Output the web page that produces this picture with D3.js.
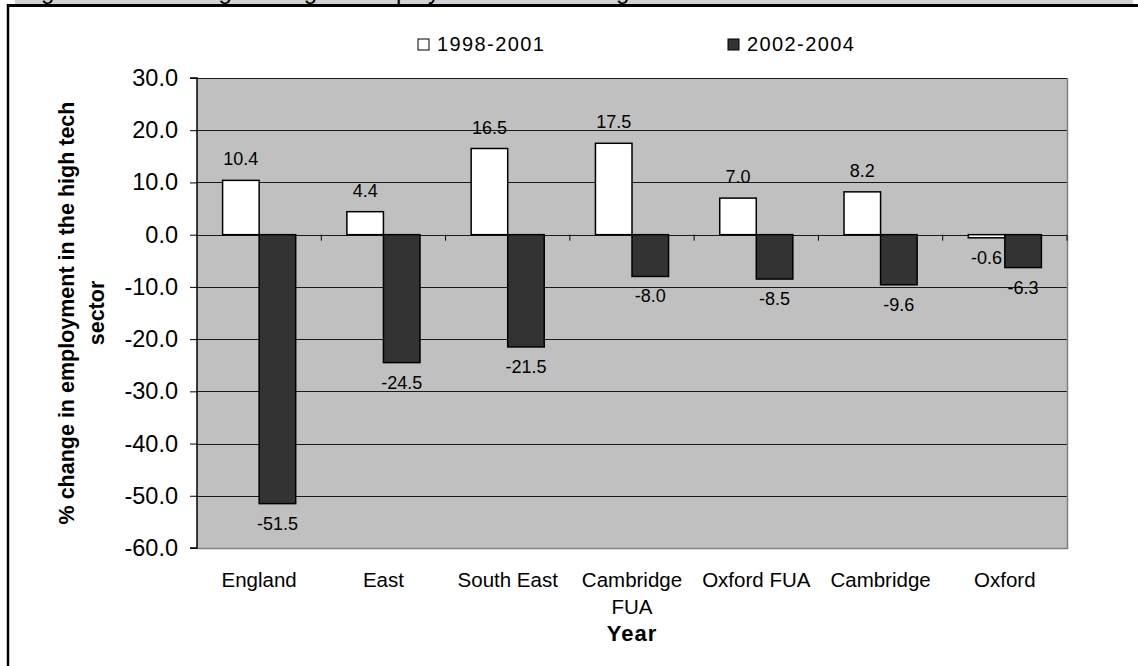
<!DOCTYPE html>
<html>
<head>
<meta charset="utf-8">
<script src="https://cdn.jsdelivr.net/npm/d3@7"></script>
<style>
  html, body { margin: 0; padding: 0; background: #ffffff; }
  svg { display: block; }
  text { font-family: "Liberation Sans", Arial, sans-serif; fill: #000; }
</style>
</head>
<body>
<script>
// Percentage change in high tech employment, two periods
const categories = ["England", "East", "South East", "Cambridge FUA", "Oxford FUA", "Cambridge", "Oxford"];
const seriesNames = ["1998-2001", "2002-2004"];
const values1998_2001 = [10.4, 4.4, 16.5, 17.5, 7.0, 8.2, -0.6];
const values2002_2004 = [-51.5, -24.5, -21.5, -8.0, -8.5, -9.6, -6.3];
const yTicks = [30, 20, 10, 0, -10, -20, -30, -40, -50, -60];
const titleText = "Figure 3: Percentage change in employment in Cambridge and Oxford";
const yTitleLines = ["% change in employment in the high tech", "sector"];
const xTitle = "Year";

const W = 1138, H = 666;
const plot = { left: 197, right: 1067, top: 78, bottom: 548 };
const fills = ["#ffffff", "#333333"];

const svg = d3.select("body").append("svg")
  .attr("width", W).attr("height", H);

// Page header strip above the chart frame (its caption runs off the top edge)
svg.append("clipPath").attr("id", "hdr")
  .append("rect").attr("x", 0).attr("y", 0).attr("width", W).attr("height", 4);
svg.append("rect").attr("x", 15).attr("y", 0).attr("width", 1118).attr("height", 5)
  .attr("fill", "#d2d2d2");
svg.append("text").attr("clip-path", "url(#hdr)")
  .attr("x", 21).attr("y", -1.5)
  .attr("font-size", 24).text(titleText);

// Chart frame edges
svg.append("line").attr("x1", 7).attr("x2", W).attr("y1", 5.5).attr("y2", 5.5)
  .attr("stroke", "#000").attr("stroke-width", 3);
svg.append("line").attr("x1", 8).attr("x2", 8).attr("y1", 4).attr("y2", H)
  .attr("stroke", "#000").attr("stroke-width", 2.5);

const y = d3.scaleLinear().domain([-60, 30]).range([plot.bottom, plot.top]);
const x = d3.scaleBand().domain(categories).range([plot.left, plot.right]).padding(0);
const bw = x.bandwidth();
const barW = bw / 3.4;
const groupOffset = (bw - 2 * barW) / 2;

// Plot background
svg.append("rect")
  .attr("x", plot.left).attr("y", plot.top)
  .attr("width", plot.right - plot.left).attr("height", plot.bottom - plot.top)
  .attr("fill", "#c0c0c0");

// Horizontal gridlines
svg.append("g").selectAll("line")
  .data(yTicks.filter(t => t !== -60))
  .join("line")
  .attr("x1", plot.left).attr("x2", plot.right)
  .attr("y1", d => Math.round(y(d)) + 0.5).attr("y2", d => Math.round(y(d)) + 0.5)
  .attr("stroke", "#1a1a1a").attr("stroke-width", 1);

// Plot border (right and bottom)
svg.append("path")
  .attr("d", `M${plot.right + 0.5},${plot.top} V${Math.round(plot.bottom) + 0.5} H${plot.left}`)
  .attr("fill", "none").attr("stroke", "#808080").attr("stroke-width", 1.5);

// Bars
const series = [values1998_2001, values2002_2004];
series.forEach((vals, si) => {
  svg.append("g").selectAll("rect")
    .data(vals)
    .join("rect")
    .attr("x", (d, i) => x(categories[i]) + groupOffset + si * barW)
    .attr("y", d => y(Math.max(0, d)))
    .attr("width", barW)
    .attr("height", d => Math.abs(y(d) - y(0)))
    .attr("fill", fills[si])
    .attr("stroke", "#000").attr("stroke-width", 1.5);
});

// Zero-line category ticks
svg.append("g").selectAll("line")
  .data(categories.slice(1))
  .join("line")
  .attr("x1", d => x(d)).attr("x2", d => x(d))
  .attr("y1", y(0)).attr("y2", y(0) + 6)
  .attr("stroke", "#000").attr("stroke-width", 1);
svg.append("line")
  .attr("x1", plot.right).attr("x2", plot.right)
  .attr("y1", y(0)).attr("y2", y(0) + 6)
  .attr("stroke", "#000").attr("stroke-width", 1);

// Value labels (outside end)
series.forEach((vals, si) => {
  svg.append("g").selectAll("text")
    .data(vals)
    .join("text")
    .attr("x", (d, i) => x(categories[i]) + groupOffset + si * barW + barW / 2)
    .attr("y", d => d >= 0 ? y(d) - 15 : y(d) + 26)
    .attr("text-anchor", "middle")
    .attr("font-size", 18)
    .text(d => d.toFixed(1));
});

// Y axis
const yAxis = svg.append("g")
  .attr("transform", `translate(${plot.left},0)`)
  .call(d3.axisLeft(y).tickValues(yTicks).tickSize(7).tickPadding(12)
    .tickFormat(d => d.toFixed(1)));
yAxis.select(".domain").attr("stroke", "#000").attr("stroke-width", 1.5)
  .attr("d", `M-7,${y(30)}H0V${y(-60)}H-7`);
yAxis.selectAll(".tick line").attr("stroke", "#000");
yAxis.selectAll(".tick text")
  .attr("font-size", 23.5)
  .attr("font-family", "'Liberation Sans', Arial, sans-serif").attr("fill", "#000");

// Category labels
const catG = svg.append("g");
categories.forEach(c => {
  const lines = c === "Cambridge FUA" ? ["Cambridge", "FUA"] : [c];
  const t = catG.append("text")
    .attr("x", x(c) + bw / 2).attr("y", 587)
    .attr("text-anchor", "middle").attr("font-size", 20.5);
  lines.forEach((ln, k) => {
    t.append("tspan").attr("x", x(c) + bw / 2).attr("dy", k === 0 ? 0 : 27).text(ln);
  });
});

// Axis titles
svg.append("text")
  .attr("x", (plot.left + plot.right) / 2).attr("y", 641)
  .attr("text-anchor", "middle").attr("font-size", 22).attr("font-weight", "bold")
  .attr("letter-spacing", 1)
  .text(xTitle);

const yt = svg.append("text")
  .attr("transform", `translate(74,${(plot.top + plot.bottom) / 2}) rotate(-90)`)
  .attr("text-anchor", "middle").attr("font-size", 21.5).attr("font-weight", "bold");
yTitleLines.forEach((ln, k) => {
  yt.append("tspan").attr("x", 0).attr("y", k * 30).text(ln);
});

// Legend
const legend = svg.append("g");
const legendX = [418, 728];
seriesNames.forEach((name, i) => {
  legend.append("rect")
    .attr("x", legendX[i]).attr("y", 39).attr("width", 11).attr("height", 11)
    .attr("fill", fills[i]).attr("stroke", "#000").attr("stroke-width", 1);
  legend.append("text")
    .attr("x", legendX[i] + 19).attr("y", 51)
    .attr("font-size", 20).attr("letter-spacing", 1.4)
    .text(name);
});
</script>
</body>
</html>
